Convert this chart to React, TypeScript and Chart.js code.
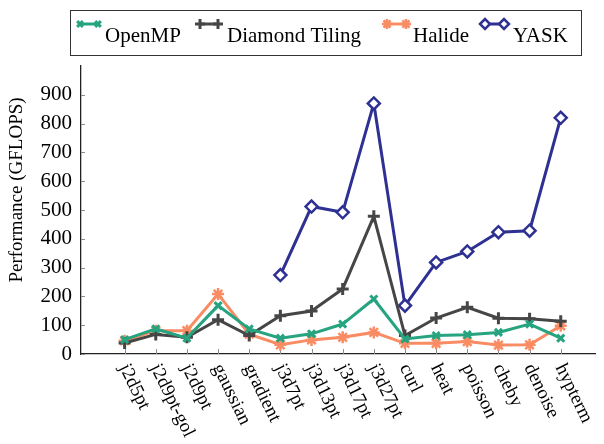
import React, { useEffect, useRef } from "react";
import { Chart, registerables } from "chart.js";
import { drawPoint } from "chart.js/helpers";

Chart.register(...registerables);

// Benchmarks on the x axis
const categories = [
  "j2d5pt", "j2d9pt-gol", "j2d9pt", "gaussian", "gradient",
  "j3d7pt", "j3d13pt", "j3d17pt", "j3d27pt", "curl",
  "heat", "poisson", "cheby", "denoise", "hypterm",
];

// Performance in GFLOPS per benchmark
const openmp = [50, 87, 55, 168, 87, 55, 70, 104, 191, 52, 64, 67, 75, 104, 55];
const diamondTiling = [38, 68, 58, 119, 64, 133, 149, 226, 478, 64, 125, 162, 124, 122, 114];
const halide = [46, 81, 81, 208, 69, 32, 49, 58, 75, 37, 37, 43, 31, 32, 98];
const yask = [null, null, null, null, null, 274, 512, 492, 870, 168, 318, 356, 423, 428, 820];

const yTickValues = [0, 100, 200, 300, 400, 500, 600, 700, 800, 900];
const yTitle = "Performance (GFLOPS)";

const FONT = "'Liberation Serif', 'DejaVu Serif', serif";

type Series = {
  label: string;
  values: (number | null)[];
  color: string;
  fill: string;
  pointStyle: string;
  radius: number;
  pointBorder: number;
};

const series: Series[] = [
  { label: "OpenMP", values: openmp, color: "#26a37f", fill: "#26a37f", pointStyle: "crossRot", radius: 5, pointBorder: 3 },
  { label: "Diamond Tiling", values: diamondTiling, color: "#464646", fill: "#464646", pointStyle: "cross", radius: 6, pointBorder: 3 },
  { label: "Halide", values: halide, color: "#fa8c64", fill: "#fa8c64", pointStyle: "star", radius: 6, pointBorder: 2.5 },
  { label: "YASK", values: yask, color: "#2e3192", fill: "#ffffff", pointStyle: "rectRot", radius: 6, pointBorder: 2.5 },
];

// legend sample positions: [marker start, marker end, text x]
const legendSlots = [
  [80, 98, 105],
  [200, 218, 227],
  [387, 406, 413],
  [485, 504, 513],
];

const decorations = {
  id: "decorations",
  beforeDatasetsDraw(chart: any) {
    const { ctx, chartArea: area } = chart;
    const xs = chart.scales.x;
    const ys = chart.scales.y;
    ctx.save();
    ctx.strokeStyle = "#8c8c8c";
    ctx.lineWidth = 1;
    ctx.beginPath();
    for (const v of yTickValues) {
      const y = Math.round(ys.getPixelForValue(v)) + 0.5;
      ctx.moveTo(area.left, y);
      ctx.lineTo(area.left + 4, y);
    }
    categories.forEach((_, i) => {
      const x = Math.round(xs.getPixelForValue(i)) + 0.5;
      ctx.moveTo(x, area.bottom);
      ctx.lineTo(x, area.bottom - 5);
    });
    ctx.stroke();
    ctx.restore();
  },
  afterDraw(chart: any) {
    const { ctx, chartArea: area } = chart;
    const xs = chart.scales.x;
    ctx.save();
    ctx.fillStyle = "#000";

    // rotated category labels
    ctx.font = `19px ${FONT}`;
    ctx.textAlign = "left";
    ctx.textBaseline = "middle";
    const ang = (64 * Math.PI) / 180;
    categories.forEach((c, i) => {
      const x = xs.getPixelForValue(i);
      ctx.save();
      ctx.translate(x - 1, area.bottom + 11);
      ctx.rotate(ang);
      ctx.fillText(c, 0, 0);
      ctx.restore();
    });

    // y axis title
    ctx.save();
    ctx.font = `19px ${FONT}`;
    ctx.textAlign = "center";
    ctx.textBaseline = "middle";
    ctx.translate(17, 190);
    ctx.rotate(-Math.PI / 2);
    ctx.fillText(yTitle, 0, 0);
    ctx.restore();

    // legend box
    ctx.strokeStyle = "#333";
    ctx.lineWidth = 1;
    ctx.strokeRect(70.5, 10.5, 511, 45);
    ctx.font = `21px ${FONT}`;
    ctx.textAlign = "left";
    ctx.textBaseline = "alphabetic";
    series.forEach((s, i) => {
      const [x1, x2, tx] = legendSlots[i];
      const y = 24;
      ctx.strokeStyle = s.color;
      ctx.lineWidth = 3;
      ctx.beginPath();
      ctx.moveTo(x1, y);
      ctx.lineTo(x2, y);
      ctx.stroke();
      ctx.fillStyle = s.fill;
      ctx.lineWidth = s.pointBorder;
      for (const px of [x1, x2]) {
        drawPoint(ctx, { pointStyle: s.pointStyle as any, radius: s.radius - 1, rotation: 0, borderWidth: s.pointBorder } as any, px, y);
      }
      ctx.fillStyle = "#000";
      ctx.fillText(s.label, tx, 42);
    });
    ctx.restore();
  },
};

export default function App() {
  const canvasRef = useRef<HTMLCanvasElement | null>(null);

  useEffect(() => {
    const canvas = canvasRef.current;
    if (!canvas) return;
    const chart = new Chart(canvas, {
      type: "line",
      data: {
        datasets: series.map((s) => ({
          label: s.label,
          data: s.values.map((v, i) => ({ x: i, y: v })),
          borderColor: s.color,
          backgroundColor: s.fill,
          pointBackgroundColor: s.fill,
          pointBorderColor: s.color,
          pointStyle: s.pointStyle as any,
          pointRadius: s.radius,
          pointBorderWidth: s.pointBorder,
          borderWidth: 3,
          tension: 0,
          spanGaps: false,
        })),
      },
      options: {
        animation: false,
        responsive: false,
        maintainAspectRatio: false,
        layout: { padding: { top: 66, right: 2, left: 0, bottom: 0 } },
        plugins: {
          legend: { display: false },
          tooltip: { enabled: false },
        },
        scales: {
          x: {
            type: "linear",
            min: -1.4,
            max: 15.1,
            grid: { display: false, drawTicks: false },
            border: { display: true, color: "#222", width: 1.3 },
            ticks: { display: false },
            afterFit: (scale: any) => {
              scale.height = 444 - 354;
            },
          },
          y: {
            type: "linear",
            min: 0,
            max: 1000,
            grid: { display: false, drawTicks: false },
            border: { display: true, color: "#222", width: 1.3 },
            ticks: {
              stepSize: 100,
              padding: 9,
              color: "#000",
              font: { family: FONT, size: 21 },
              callback: (v: any) => (yTickValues.includes(Number(v)) ? String(v) : ""),
            },
            afterFit: (scale: any) => {
              scale.width = 81;
            },
          },
        },
      },
      plugins: [decorations],
    });
    return () => chart.destroy();
  }, []);

  return (
    <div style={{ position: "fixed", left: 0, top: 0, width: 604, height: 444, background: "#fff" }}>
      <canvas ref={canvasRef} width={604} height={444} style={{ display: "block" }} />
    </div>
  );
}
